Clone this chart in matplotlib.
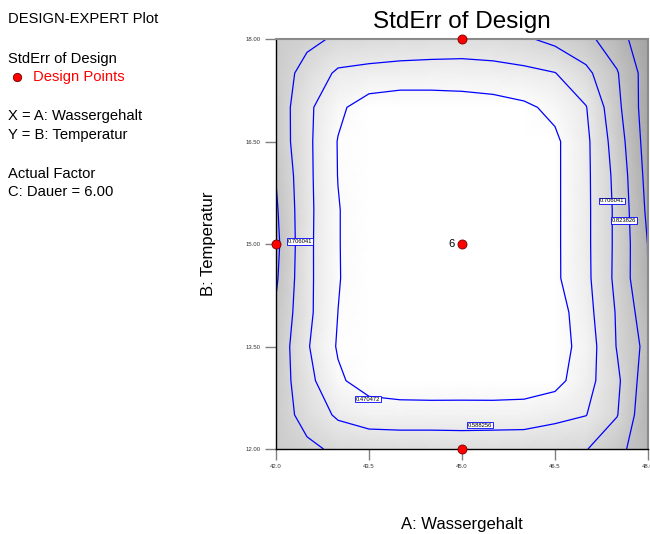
import matplotlib.pyplot as plt
import numpy as np
from matplotlib.colors import LinearSegmentedColormap
from matplotlib.lines import Line2D

plt.rcParams['font.family'] = ['Liberation Sans', 'DejaVu Sans']

# grid of the two factors shown (C: Dauer held at 6.00)
wassergehalt = [42.0, 42.5, 43.0, 43.5, 44.0, 44.5, 45.0, 45.5, 46.0, 46.5, 47.0, 47.5, 48.0]
temperatur = [12.0, 12.5, 13.0, 13.5, 14.0, 14.5, 15.0, 15.5, 16.0, 16.5, 17.0, 17.5, 18.0]

# StdErr of design, one row per Temperatur value
stderr_rows = [
    [0.780, 0.730, 0.685, 0.670, 0.665, 0.660, 0.655, 0.660, 0.665, 0.675, 0.700, 0.794, 0.890],
    [0.770, 0.663, 0.570, 0.530, 0.526, 0.530, 0.531, 0.530, 0.530, 0.558, 0.585, 0.700, 0.920],
    [0.780, 0.626, 0.488, 0.420, 0.400, 0.390, 0.390, 0.390, 0.400, 0.430, 0.545, 0.682, 0.900],
    [0.790, 0.600, 0.460, 0.400, 0.375, 0.365, 0.365, 0.370, 0.380, 0.410, 0.522, 0.712, 0.863],
    [0.810, 0.618, 0.470, 0.405, 0.375, 0.360, 0.360, 0.365, 0.380, 0.410, 0.545, 0.717, 0.900],
    [0.838, 0.618, 0.477, 0.400, 0.370, 0.355, 0.355, 0.360, 0.380, 0.450, 0.560, 0.735, 0.943],
    [0.852, 0.618, 0.476, 0.400, 0.370, 0.355, 0.350, 0.355, 0.375, 0.450, 0.563, 0.732, 0.945],
    [0.838, 0.620, 0.476, 0.400, 0.370, 0.355, 0.355, 0.360, 0.380, 0.450, 0.563, 0.732, 0.966],
    [0.820, 0.618, 0.468, 0.400, 0.375, 0.365, 0.365, 0.370, 0.390, 0.450, 0.563, 0.741, 0.982],
    [0.785, 0.616, 0.466, 0.410, 0.385, 0.375, 0.375, 0.380, 0.400, 0.450, 0.563, 0.763, 0.997],
    [0.784, 0.615, 0.493, 0.415, 0.395, 0.400, 0.410, 0.425, 0.450, 0.497, 0.583, 0.794, 1.007],
    [0.770, 0.664, 0.570, 0.555, 0.545, 0.540, 0.539, 0.545, 0.560, 0.585, 0.677, 0.815, 1.000],
    [0.780, 0.733, 0.690, 0.675, 0.665, 0.660, 0.655, 0.665, 0.690, 0.738, 0.794, 0.890, 1.030],
]

contour_levels = [0.470472, 0.588256, 0.706041, 0.823826, 0.941611]

# design points in this slice
design_a = [42.0, 45.0, 45.0, 45.0]
design_b = [15.0, 18.0, 12.0, 15.0]
center_reps = "6"

x_ticks = [42.0, 43.5, 45.0, 46.5, 48.0]
y_ticks = [12.0, 13.5, 15.0, 16.5, 18.0]

info_lines = ["DESIGN-EXPERT Plot", "StdErr of Design", "Design Points",
              "X = A: Wassergehalt", "Y = B: Temperatur",
              "Actual Factor", "C: Dauer = 6.00"]

W, H = 650, 534
fig = plt.figure(figsize=(W / 100, H / 100), dpi=100)
ax = fig.add_axes([276 / W, 1 - 449 / H, 372 / W, 410 / H])

Z = np.array(stderr_rows)
grays = LinearSegmentedColormap.from_list("se", ["#ffffff", "#a0a0a0"])
ax.pcolormesh(wassergehalt, temperatur, Z, shading="gouraud", cmap=grays,
              vmin=0.45, vmax=1.05)
ax.contour(wassergehalt, temperatur, Z, levels=contour_levels,
           colors="#0000ff", linewidths=0.9)

# contour labels, placed like the original
label_spots = [(0, 43.48, 12.73), (1, 45.29, 12.35), (2, 42.39, 15.04),
               (2, 47.42, 15.63), (3, 47.61, 15.34)]
for i, lx, ly in label_spots:
    ax.text(lx, ly, f"{contour_levels[i]:.6f}", fontsize=4.2, ha="center",
            va="center", zorder=4,
            bbox=dict(boxstyle="square,pad=0.15", fc="white", ec="#0000ff", lw=0.6))

ax.plot(design_a, design_b, "o", color="red", mec="#700000", ms=6.5, mew=0.6,
        clip_on=False, zorder=6)
ax.text(44.88, 15.0, center_reps, ha="right", va="center", fontsize=8)

ax.set_xlim(42, 48)
ax.set_ylim(12, 18)
ax.set_xticks(x_ticks)
ax.set_xticklabels([f"{v:.1f}" for v in x_ticks])
ax.set_yticks(y_ticks)
ax.set_yticklabels([f"{v:.2f}" for v in y_ticks])
ax.tick_params(length=8, width=1, color="#808080", labelsize=4.3,
               labelcolor="#333333", pad=3)
for s in ["left", "bottom"]:
    ax.spines[s].set_color("black")
    ax.spines[s].set_linewidth(1)
for s in ["top", "right"]:
    ax.spines[s].set_color("#8a8a8a")
    ax.spines[s].set_linewidth(1.5)

fig.text(462 / W, 1 - 22 / H, "StdErr of Design", ha="center", va="center", fontsize=17.5)
fig.text(208 / W, 1 - 244 / H, "B: Temperatur", ha="center", va="center",
         rotation=90, fontsize=12)
fig.text(462 / W, 1 - 525 / H, "A: Wassergehalt", ha="center", va="center", fontsize=12)

# left info panel
rows_y = [19, 59, 77, 116, 135, 174, 192]
for txt, py in zip(info_lines, rows_y):
    if txt == "Design Points":
        fig.text(33 / W, 1 - py / H, txt, ha="left", va="center", fontsize=10.6, color="red")
        fig.add_artist(Line2D([17 / W], [1 - py / H], marker="o", color="red",
                              mec="#700000", ms=6, mew=0.6, transform=fig.transFigure))
    else:
        fig.text(8 / W, 1 - py / H, txt, ha="left", va="center", fontsize=10.6)

plt.savefig("out.png", dpi=100)
